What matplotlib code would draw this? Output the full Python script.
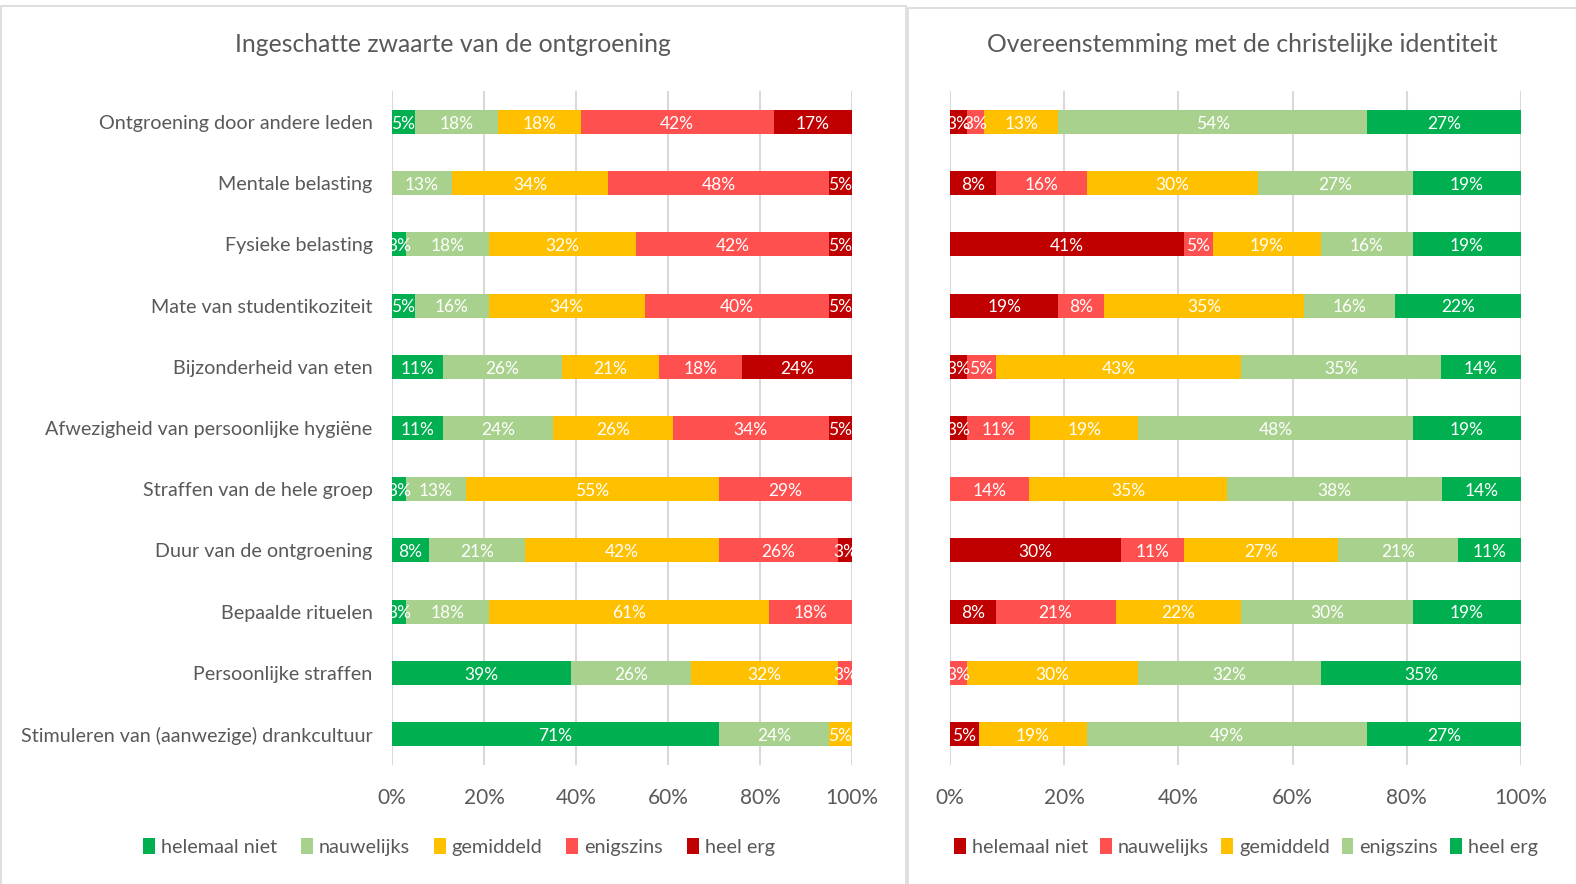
import numpy as np
import matplotlib.pyplot as plt
from matplotlib.patches import Rectangle, Patch

plt.rcParams['font.family'] = ['Lato', 'DejaVu Sans']

items = ["Ontgroening door andere leden", "Mentale belasting", "Fysieke belasting",
         "Mate van studentikoziteit", "Bijzonderheid van eten",
         "Afwezigheid van persoonlijke hygiëne", "Straffen van de hele groep",
         "Duur van de ontgroening", "Bepaalde rituelen", "Persoonlijke straffen",
         "Stimuleren van (aanwezige) drankcultuur"]
levels = ["helemaal niet", "nauwelijks", "gemiddeld", "enigszins", "heel erg"]

# Ingeschatte zwaarte (% per level, rows follow items)
zwaarte = [
    [5, 18, 18, 42, 17],
    [0, 13, 34, 48, 5],
    [3, 18, 32, 42, 5],
    [5, 16, 34, 40, 5],
    [11, 26, 21, 18, 24],
    [11, 24, 26, 34, 5],
    [3, 13, 55, 29, 0],
    [8, 21, 42, 26, 3],
    [3, 18, 61, 18, 0],
    [39, 26, 32, 3, 0],
    [71, 24, 5, 0, 0],
]

# Overeenstemming met christelijke identiteit
identiteit = [
    [3, 3, 13, 54, 27],
    [8, 16, 30, 27, 19],
    [41, 5, 19, 16, 19],
    [19, 8, 35, 16, 22],
    [3, 5, 43, 35, 14],
    [3, 11, 19, 48, 19],
    [0, 14, 35, 38, 14],
    [30, 11, 27, 21, 11],
    [8, 21, 22, 30, 19],
    [0, 3, 30, 32, 35],
    [5, 0, 19, 49, 27],
]

titles = ["Ingeschatte zwaarte van de ontgroening", "Overeenstemming met de christelijke identiteit"]
colors_left = ["#00B050", "#A9D18E", "#FFC000", "#FF5050", "#C00000"]
colors_right = ["#C00000", "#FF5050", "#FFC000", "#A9D18E", "#00B050"]
ticks = [0, 20, 40, 60, 80, 100]

W, H = 1576, 884
grey = "#595959"
fig = plt.figure(figsize=(W / 100, H / 100), dpi=100)

# panel borders
fig.patches.append(Rectangle((1 / W, -0.01), 905 / W, 1 - 6 / H + 0.01, transform=fig.transFigure,
                             fill=False, edgecolor="#D9D9D9", linewidth=1.2))
fig.patches.append(Rectangle((908 / W, -0.01), 670 / W, 1 - 8 / H + 0.01, transform=fig.transFigure,
                             fill=False, edgecolor="#D9D9D9", linewidth=1.2))


def draw(rect, data, colors, show_labels):
    ax = fig.add_axes(rect)
    arr = np.array(data, dtype=float)
    pct = arr / arr.sum(axis=1, keepdims=True) * 100
    y = np.arange(len(items))
    left = np.zeros(len(items))
    for j in range(len(levels)):
        ax.barh(y, pct[:, j], left=left, height=0.39, color=colors[j], zorder=2)
        for i in range(len(items)):
            if arr[i, j] > 0:
                ax.text(left[i] + pct[i, j] / 2, y[i] + 0.03, f"{int(arr[i, j])}%", ha="center",
                        va="center", color="white", fontsize=12.5, clip_on=True, zorder=3)
        left += pct[:, j]
    ax.set_xlim(0, 100)
    ax.set_ylim(len(items) - 0.5, -0.5)
    ax.set_xticks(ticks)
    ax.set_xticklabels([f"{t}%" for t in ticks], fontsize=15, color=grey)
    ax.set_yticks(y)
    if show_labels:
        ax.set_yticklabels(items, fontsize=14.2, color=grey)
    else:
        ax.set_yticklabels([])
    ax.tick_params(axis="x", length=0, pad=17)
    ax.tick_params(axis="y", length=0, pad=14)
    ax.grid(axis="x", color="#D9D9D9", linewidth=1.5, zorder=0)
    ax.set_axisbelow(True)
    for s in ax.spines.values():
        s.set_visible(False)
    return ax


ax_h = 673.2 / H
ax_b = 1 - 764.6 / H
draw([392 / W, ax_b, 460 / W, ax_h], zwaarte, colors_left, True)
draw([950 / W, ax_b, 571 / W, ax_h], identiteit, colors_right, False)

fig.text(453 / W, 1 - 44 / H, titles[0], ha="center", va="center", fontsize=17.8, color=grey)
fig.text(1242 / W, 1 - 44 / H, titles[1], ha="center", va="center", fontsize=17.8, color=grey)

for cx, cols, gap in [(459, colors_left, 1.2), (1246, colors_right, 0.6)]:
    handles = [Patch(facecolor=c, edgecolor="none") for c in cols]
    fig.legend(handles, levels, loc="center", bbox_to_anchor=(cx / W, 1 - 847 / H), ncol=5,
               frameon=False, fontsize=14.3, handlelength=0.6, handleheight=0.9,
               handletextpad=0.3, columnspacing=gap, labelcolor=grey)

fig.savefig("out.png", dpi=100)
